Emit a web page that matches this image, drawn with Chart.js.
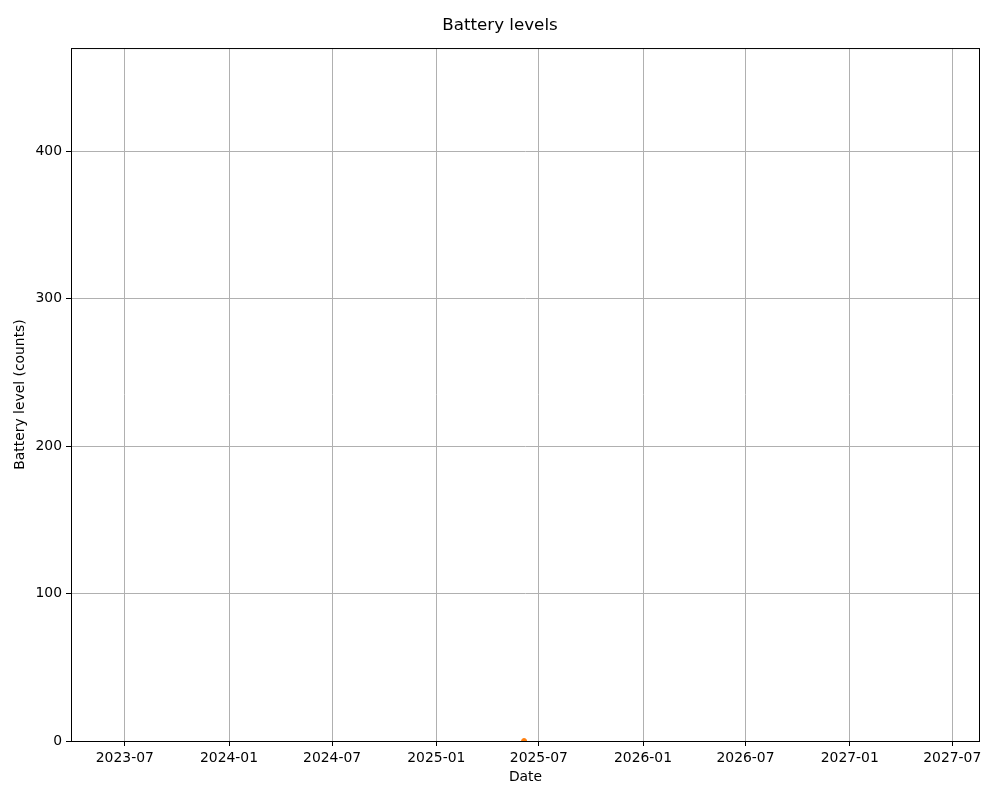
<!DOCTYPE html>
<html>
<head>
<meta charset="utf-8">
<script src="https://cdn.jsdelivr.net/npm/chart.js@4"></script>
<style>
  html, body { margin: 0; padding: 0; background: #fff; }
  #wrap { width: 1000px; height: 800px; }
</style>
</head>
<body>
<div id="wrap"><canvas id="battery"></canvas></div>
<script>
// Data
const readingDates = ["2025-06-05"];
const batteryCounts = [0];

// Tick labels
const xTickLabels = ["2023-07", "2024-01", "2024-07", "2025-01", "2025-07", "2026-01", "2026-07", "2027-01", "2027-07"];
const yTickValues = [0, 100, 200, 300, 400];

// Axis limits
const xStart = "2023-03-28";
const xEnd = "2027-08-19";
const yMax = 470;

function toMs(s) {
  const p = s.split("-").map(Number);
  return Date.UTC(p[0], p[1] - 1, p[2] || 1);
}

function msLabel(v) {
  const d = new Date(v);
  return d.getUTCFullYear() + "-" + String(d.getUTCMonth() + 1).padStart(2, "0");
}

const points = readingDates.map((d, i) => ({ x: toMs(d), y: batteryCounts[i] }));

// Draw the black frame round the plot area, like matplotlib
const frame = {
  id: "frame",
  afterDraw(chart) {
    const a = chart.chartArea;
    const c = chart.ctx;
    c.save();
    c.strokeStyle = "#000";
    c.lineWidth = 1;
    c.strokeRect(a.left + 0.5, a.top + 0.5, a.right - a.left - 1, a.bottom - a.top);
    c.restore();
  }
};

Chart.defaults.font.family = "'DejaVu Sans', sans-serif";
Chart.defaults.color = "#000";

const tickFont = { size: 13.9 };

const ctx = document.getElementById("battery").getContext("2d");
new Chart(ctx, {
  type: "scatter",
  data: {
    datasets: [{
      label: "Battery level",
      data: points,
      backgroundColor: "#ff7f0e",
      borderColor: "#ff7f0e",
      pointRadius: 2.5,
      pointHoverRadius: 2.5
    }]
  },
  options: {
    responsive: true,
    maintainAspectRatio: false,
    animation: false,
    layout: { padding: 0 },
    plugins: {
      legend: { display: false },
      tooltip: { enabled: false },
      title: {
        display: true,
        text: "Battery levels",
        font: { size: 16.7, weight: "normal" },
        color: "#000",
        padding: { top: 15.5, bottom: 12.5 }
      }
    },
    scales: {
      x: {
        type: "linear",
        min: toMs(xStart),
        max: toMs(xEnd),
        afterBuildTicks(scale) {
          scale.ticks = xTickLabels.map(l => ({ value: toMs(l) }));
        },
        afterFit(scale) {
          scale.height = 59;
          scale.paddingLeft = 0;
          scale.paddingRight = 0;
        },
        ticks: {
          autoSkip: false,
          maxRotation: 0,
          font: tickFont,
          padding: 4,
          callback: v => msLabel(v)
        },
        grid: { color: "#b0b0b0", lineWidth: 1, tickLength: 5, tickColor: "#000" },
        border: { display: false },
        title: { display: true, text: "Date", font: tickFont, padding: { top: 4, bottom: 14 } }
      },
      y: {
        min: 0,
        max: yMax,
        afterBuildTicks(scale) {
          scale.ticks = yTickValues.map(v => ({ value: v }));
        },
        afterFit(scale) {
          scale.width = 71;
        },
        ticks: { font: tickFont, padding: 4 },
        grid: { color: "#b0b0b0", lineWidth: 1, tickLength: 5, tickColor: "#000" },
        border: { display: false },
        title: { display: true, text: "Battery level (counts)", font: tickFont, padding: { top: 12.5, bottom: 0 } }
      },
      // empty strip on the right so the title stays centred on the page
      yRight: {
        position: "right",
        display: true,
        min: 0,
        max: yMax,
        afterFit(scale) {
          scale.width = 20;
        },
        ticks: { display: false },
        grid: { display: false },
        border: { display: false }
      }
    }
  },
  plugins: [frame]
});
</script>
</body>
</html>
